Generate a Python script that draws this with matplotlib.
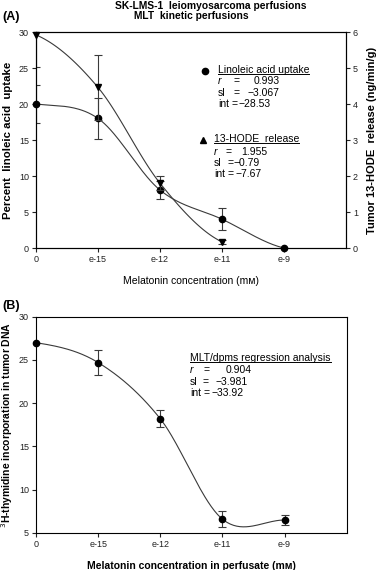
import numpy as np
import matplotlib
matplotlib.use('Agg')
import matplotlib.pyplot as plt
from matplotlib.lines import Line2D

plt.rcParams['font.family'] = ['Liberation Sans', 'DejaVu Sans']
plt.rcParams['font.size'] = 7
plt.rcParams['axes.linewidth'] = 0.8

# x categories (melatonin concentration)
conc_labels = ['0', 'e-15', 'e-12', 'e-11', 'e-9']

# Panel A: linoleic acid uptake (left axis, %)
la_y = [20.0, 18.0, 8.05, 4.0, 0.0]
la_err = [2.6, 2.85, 1.25, 1.5, 0.0]
# Panel A: 13-HODE release (right axis, ng/min/g), last point missing
hode_y = [5.92, 4.46, 1.8, 0.17]
hode_err = [0.88, 0.9, 0.2, 0.05]

# Panel B: 3H-thymidine incorporation
thy_y = [27.0, 24.7, 18.2, 6.6, 6.5]
thy_err = [0.0, 1.4, 1.0, 0.9, 0.55]

W, H = 378, 570
line_col = '#3a3a3a'


def smooth(x, y, n=40):
    # Catmull-Rom style smoothing through the points (like a spreadsheet "smoothed line")
    x = np.asarray(x, float)
    y = np.asarray(y, float)
    dx = np.diff(x)
    m = np.empty_like(y)
    m[1:-1] = (y[2:] - y[:-2]) / (x[2:] - x[:-2])
    m[0] = (y[1] - y[0]) / dx[0] / 2
    m[-1] = (y[-1] - y[-2]) / dx[-1] / 2
    xs, ys = [], []
    for i in range(len(x) - 1):
        t = np.linspace(0, 1, n)
        h00 = 2*t**3 - 3*t**2 + 1
        h10 = t**3 - 2*t**2 + t
        h01 = -2*t**3 + 3*t**2
        h11 = t**3 - t**2
        xs.append(x[i] + t*dx[i])
        ys.append(h00*y[i] + h10*dx[i]*m[i] + h01*y[i+1] + h11*dx[i]*m[i+1])
    return np.concatenate(xs), np.concatenate(ys)


def pix_axes(l, t, r, b):
    return [l / W, 1 - b / H, (r - l) / W, (b - t) / H]


fig = plt.figure(figsize=(W / 100, H / 100), dpi=100)

# ---------------- Panel A ----------------
axA = fig.add_axes(pix_axes(36, 32, 346, 248))
axA2 = axA.twinx()
xa = np.arange(len(la_y))
xh = np.arange(len(hode_y))

sx, sy = smooth(xa, la_y)
axA.plot(sx, sy, color=line_col, lw=0.8)
axA.errorbar(xa, la_y, yerr=la_err, fmt='none', ecolor=line_col, elinewidth=0.8, capsize=3, capthick=0.8)
axA.plot(xa, la_y, 'o', color='black', ms=4.5, clip_on=False, zorder=5)

sx, sy = smooth(xh, hode_y)
axA2.plot(sx, sy, color=line_col, lw=0.8)
axA2.errorbar(xh, hode_y, yerr=hode_err, fmt='none', ecolor=line_col, elinewidth=0.8, capsize=3, capthick=0.8)
axA2.plot(xh, hode_y, 'v', color='black', ms=5, clip_on=False, zorder=5)

axA.set_xlim(0, 5)
axA.set_ylim(0, 30)
axA2.set_ylim(0, 6)
axA.set_xticks(xa)
axA.set_xticklabels(conc_labels)
axA.set_yticks(np.arange(0, 31, 5))
axA2.set_yticks(np.arange(0, 7, 1))
for a in (axA, axA2):
    a.tick_params(direction='out', length=3, width=0.8, labelsize=6.5, pad=2, colors='#222222')
axA.set_ylabel('Percent  linoleic acid  uptake', fontweight='bold', fontsize=8.2)
axA.yaxis.label.set_va('center')
axA.yaxis.set_label_coords((8 - 36) / 310, 0.5)
axA2.set_ylabel('Tumor 13-HODE  release (ng/min/g)', fontweight='bold', fontsize=8)
axA2.yaxis.label.set_va('center')
axA2.yaxis.set_label_coords((372 - 36) / 310, 0.5)
axA.set_xlabel('Melatonin concentration (m\u1d0d)', fontsize=7.5, labelpad=9)

fig.text(211 / W, 1 - 6 / H, 'SK-LMS-1  leiomyosarcoma perfusions', ha='center', va='center',
         fontweight='bold', fontsize=7.4)
fig.text(191 / W, 1 - 16 / H, 'MLT  kinetic perfusions', ha='center', va='center',
         fontweight='bold', fontsize=7.4)
fig.text(2 / W, 1 - 17 / H, '(A)', ha='left', va='center', fontweight='bold', fontsize=9)
fig.text(2 / W, 1 - 306 / H, '(B)', ha='left', va='center', fontweight='bold', fontsize=9)

underlines = []


def stat_block(ax, box, start, mark, mark_x, title, rows, row_dy, offs):
    ax_l, ax_t, ax_r, ax_b = box

    def fx(px):
        return (px - ax_l) / (ax_r - ax_l)

    def fy(py):
        return 1 - (py - ax_t) / (ax_b - ax_t)

    x0, y0 = start
    if mark is not None:
        ax.plot([fx(mark_x)], [fy(y0 + 1)], mark, color='black', ms=4.5, transform=ax.transAxes, clip_on=False)
    tt = ax.text(fx(x0), fy(y0), title, transform=ax.transAxes, ha='left', va='center', fontsize=7.5)
    underlines.append(tt)
    for k, (lab, val) in enumerate(rows):
        yy = fy(y0 + row_dy[k])
        ax.text(fx(x0), yy, lab, transform=ax.transAxes, ha='left', va='center', fontsize=7.5,
                style='italic' if lab == 'r' else 'normal')
        ax.text(fx(x0 + offs[k][0]), yy, '=', transform=ax.transAxes, ha='left', va='center', fontsize=7.5)
        ax.text(fx(x0 + offs[k][1]), yy, val, transform=ax.transAxes, ha='left', va='center', fontsize=7.5)


boxA = (36, 32, 346, 248)
stat_block(axA, boxA, (218, 70), 'o', 205, 'Linoleic acid uptake',
           [('r', '0.993'), ('sl', '\u22123.067'), ('int', '\u221228.53')],
           [11, 23, 34], [(15, 36), (15, 29), (13.5, 21)])
stat_block(axA, boxA, (214, 139), '^', 203, '13-HODE  release',
           [('r', '1.955'), ('sl', '\u22120.79'), ('int', '\u22127.67')],
           [13, 24, 35], [(12, 27), (14, 20), (13.5, 21)])

# ---------------- Panel B ----------------
axB = fig.add_axes(pix_axes(36, 316.7, 346.7, 533))
xb = np.arange(len(thy_y))
sx, sy = smooth(xb, thy_y)
axB.plot(sx, sy, color=line_col, lw=0.8)
axB.errorbar(xb, thy_y, yerr=thy_err, fmt='none', ecolor=line_col, elinewidth=0.8, capsize=3, capthick=0.8)
axB.plot(xb, thy_y, 'o', color='black', ms=4.5, clip_on=False, zorder=5)
axB.set_xlim(0, 5)
axB.set_ylim(5, 30)
axB.set_xticks(xb)
axB.set_xticklabels(conc_labels)
axB.set_yticks(np.arange(5, 31, 5))
axB.tick_params(direction='out', length=3, width=0.8, labelsize=6.5, pad=2, colors='#222222')
axB.set_ylabel('$^{3}$H-thymidine incorporation in tumor DNA', fontweight='bold', fontsize=7.5)
axB.yaxis.label.set_va('center')
axB.yaxis.set_label_coords((7 - 36) / 310.7, 0.5)
axB.set_xlabel('Melatonin concentration in perfusate (m\u1d0d)', fontweight='bold', fontsize=7.5, labelpad=9)

boxB = (36, 316.7, 346.7, 533)
stat_block(axB, boxB, (190, 358), None, 0, 'MLT/dpms regression analysis',
           [('r', '0.904'), ('sl', '\u22123.981'), ('int', '\u221233.92')],
           [12, 24, 35], [(14, 36), (13, 25), (13.5, 21)])

# underline the block titles
fig.canvas.draw()
r = fig.canvas.get_renderer()
for tt in underlines:
    bb = tt.get_window_extent(renderer=r)
    yline = bb.y0 + 1.0
    fig.add_artist(Line2D([bb.x0 / W, bb.x1 / W], [yline / H, yline / H], color='black', lw=0.7))

fig.savefig('out.png', dpi=100)
